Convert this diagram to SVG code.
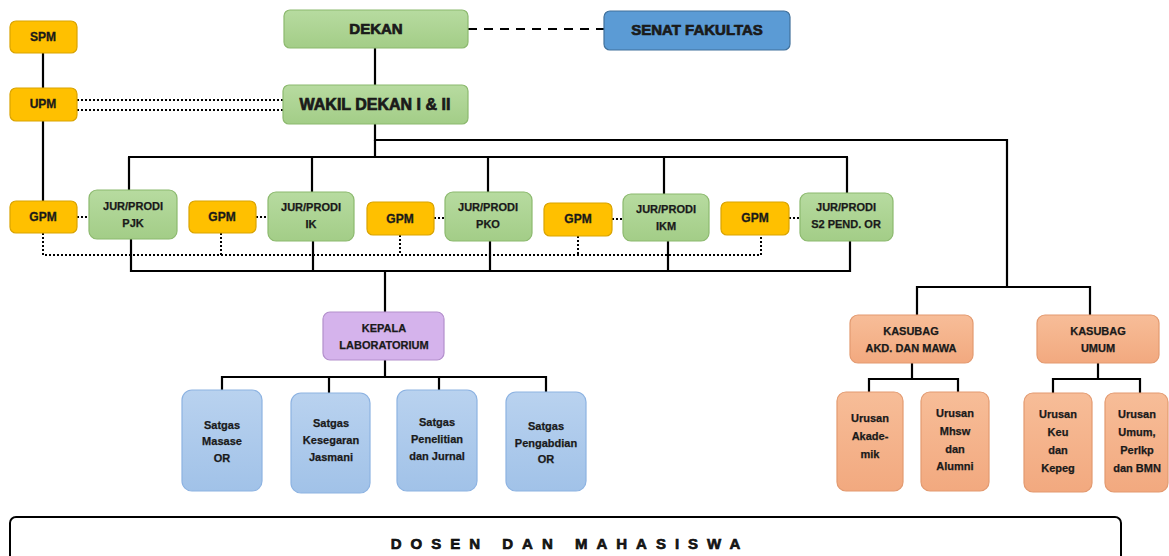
<svg xmlns="http://www.w3.org/2000/svg" width="1169" height="556" viewBox="0 0 1169 556">
<defs>
<linearGradient id="gGreen" x1="0" y1="0" x2="0" y2="1"><stop offset="0" stop-color="#b7dba0"/><stop offset="1" stop-color="#a3cd87"/></linearGradient>
<linearGradient id="gBlue" x1="0" y1="0" x2="0" y2="1"><stop offset="0" stop-color="#b9d2ef"/><stop offset="1" stop-color="#a1c2e8"/></linearGradient>
<linearGradient id="gSalmon" x1="0" y1="0" x2="0" y2="1"><stop offset="0" stop-color="#f7bd98"/><stop offset="1" stop-color="#f2a97f"/></linearGradient>
<style>
text{font-family:"Liberation Sans",Arial,sans-serif;font-weight:bold;fill:#1a1a1a;text-anchor:middle;dominant-baseline:central}
.green{fill:url(#gGreen);stroke:#8cb96e;stroke-width:1.2}
.gold{fill:#ffc000;stroke:#d9a300;stroke-width:1.2}
.senat{fill:#5b9bd5;stroke:#41719c;stroke-width:1.2}
.purple{fill:#d5b3ec;stroke:#b38fcc;stroke-width:1.2}
.sat{fill:url(#gBlue);stroke:#8db3e2;stroke-width:1.2}
.sal{fill:url(#gSalmon);stroke:#e39a70;stroke-width:1.2}
.big{font-size:15px;stroke:#1a1a1a;stroke-width:0.7}
.mid{font-size:12px;stroke:#1a1a1a;stroke-width:0.3}
.sm{font-size:11px;stroke:#1a1a1a;stroke-width:0.25}
.solid{fill:none;stroke:#000;stroke-width:2.2}
.dot{fill:none;stroke:#000;stroke-width:2;stroke-dasharray:2 2}
.dash{fill:none;stroke:#000;stroke-width:2.2;stroke-dasharray:9 7}
</style>
</defs>

<g id="connectors">
<line class="dash" x1="468" y1="29" x2="604" y2="29"/>
<line class="solid" x1="43" y1="53" x2="43" y2="88"/>
<line class="solid" x1="43" y1="121" x2="43" y2="201"/>
<line class="dot" x1="77" y1="100" x2="283" y2="100"/>
<line class="dot" x1="77" y1="110" x2="283" y2="110"/>
<line class="solid" x1="375" y1="48" x2="375" y2="85"/>
<polyline class="solid" points="375,124 375,140 1007,140 1007,287"/>
<line class="solid" x1="375" y1="140" x2="375" y2="157"/>
<line class="solid" x1="128" y1="157" x2="848" y2="157"/>
<line class="solid" x1="129" y1="157" x2="129" y2="190"/>
<line class="solid" x1="312" y1="157" x2="312" y2="192"/>
<line class="solid" x1="488" y1="157" x2="488" y2="192"/>
<line class="solid" x1="664" y1="157" x2="664" y2="194"/>
<line class="solid" x1="847" y1="157" x2="847" y2="193"/>
<line class="dot" x1="77" y1="217" x2="89" y2="217"/>
<line class="dot" x1="256" y1="217" x2="268" y2="217"/>
<line class="dot" x1="434" y1="218" x2="445" y2="218"/>
<line class="dot" x1="612" y1="219" x2="623" y2="219"/>
<line class="dot" x1="789" y1="218" x2="800" y2="218"/>
<polyline class="dot" points="43,233 43,255 761,255 761,235"/>
<line class="dot" x1="221" y1="233" x2="221" y2="255"/>
<line class="dot" x1="400" y1="235" x2="400" y2="255"/>
<line class="dot" x1="578" y1="236" x2="578" y2="255"/>
<polyline class="solid" points="131,239 131,271 850,271 850,241"/>
<line class="solid" x1="313" y1="241" x2="313" y2="271"/>
<line class="solid" x1="490" y1="241" x2="490" y2="271"/>
<line class="solid" x1="668" y1="241" x2="668" y2="271"/>
<line class="solid" x1="385" y1="271" x2="385" y2="312"/>
<line class="solid" x1="385" y1="360" x2="385" y2="377"/>
<polyline class="solid" points="222,390 222,377 546,377 546,392"/>
<line class="solid" x1="329" y1="377" x2="329" y2="393"/>
<line class="solid" x1="439" y1="377" x2="439" y2="390"/>
<polyline class="solid" points="917,315 917,287 1090,287 1090,315"/>
<line class="solid" x1="912" y1="363" x2="912" y2="379"/>
<polyline class="solid" points="869,392 869,379 958,379 958,392"/>
<line class="solid" x1="1098" y1="363" x2="1098" y2="379"/>
<polyline class="solid" points="1053,393 1053,379 1140,379 1140,393"/>
</g>

<g id="dekan"><rect class="green" x="284" y="10" width="184" height="38" rx="6"/><text class="big" x="376" y="28">DEKAN</text></g>
<g id="senat"><rect class="senat" x="604" y="11" width="186" height="39" rx="6"/><text class="big" x="697" y="29">SENAT FAKULTAS</text></g>
<g id="spm"><rect class="gold" x="10" y="21" width="67" height="32" rx="6"/><text class="mid" x="43" y="37">SPM</text></g>
<g id="upm"><rect class="gold" x="10" y="88" width="67" height="33" rx="6"/><text class="mid" x="43" y="104">UPM</text></g>
<g id="wakil"><rect class="green" x="283" y="85" width="185" height="39" rx="6"/><text class="big" x="375" y="104" style="font-size:16px">WAKIL DEKAN I &amp; II</text></g>

<g id="gpm1"><rect class="gold" x="10" y="201" width="67" height="32" rx="6"/><text class="mid" x="43" y="217">GPM</text></g>
<g id="pjk"><rect class="green" x="89" y="190" width="88" height="49" rx="8"/><text class="sm" x="133" y="206">JUR/PRODI</text><text class="sm" x="133" y="223">PJK</text></g>
<g id="gpm2"><rect class="gold" x="189" y="201" width="67" height="32" rx="6"/><text class="mid" x="222" y="217">GPM</text></g>
<g id="ik"><rect class="green" x="268" y="192" width="86" height="49" rx="8"/><text class="sm" x="311" y="207">JUR/PRODI</text><text class="sm" x="311" y="224">IK</text></g>
<g id="gpm3"><rect class="gold" x="367" y="202" width="67" height="33" rx="6"/><text class="mid" x="400" y="219">GPM</text></g>
<g id="pko"><rect class="green" x="445" y="192" width="87" height="49" rx="8"/><text class="sm" x="488" y="207">JUR/PRODI</text><text class="sm" x="488" y="224">PKO</text></g>
<g id="gpm4"><rect class="gold" x="544" y="203" width="68" height="33" rx="6"/><text class="mid" x="578" y="219">GPM</text></g>
<g id="ikm"><rect class="green" x="623" y="194" width="86" height="47" rx="8"/><text class="sm" x="666" y="209">JUR/PRODI</text><text class="sm" x="666" y="226">IKM</text></g>
<g id="gpm5"><rect class="gold" x="721" y="202" width="68" height="33" rx="6"/><text class="mid" x="755" y="218">GPM</text></g>
<g id="s2"><rect class="green" x="800" y="193" width="93" height="48" rx="8"/><text class="sm" x="846" y="207">JUR/PRODI</text><text class="sm" x="846" y="224">S2 PEND. OR</text></g>

<g id="kepala"><rect class="purple" x="323" y="312" width="121" height="48" rx="7"/><text class="sm" x="384" y="328">KEPALA</text><text class="sm" x="384" y="345">LABORATORIUM</text></g>
<g id="satgas1"><rect class="sat" x="182" y="390" width="80" height="101" rx="10"/><text class="sm" x="222" y="425">Satgas</text><text class="sm" x="222" y="441">Masase</text><text class="sm" x="222" y="458">OR</text></g>
<g id="satgas2"><rect class="sat" x="291" y="393" width="79" height="100" rx="10"/><text class="sm" x="331" y="423">Satgas</text><text class="sm" x="331" y="440">Kesegaran</text><text class="sm" x="331" y="457">Jasmani</text></g>
<g id="satgas3"><rect class="sat" x="397" y="390" width="80" height="101" rx="10"/><text class="sm" x="437" y="422">Satgas</text><text class="sm" x="437" y="439">Penelitian</text><text class="sm" x="437" y="456">dan Jurnal</text></g>
<g id="satgas4"><rect class="sat" x="506" y="392" width="80" height="99" rx="10"/><text class="sm" x="546" y="426">Satgas</text><text class="sm" x="546" y="443">Pengabdian</text><text class="sm" x="546" y="459">OR</text></g>

<g id="kasubag-akd"><rect class="sal" x="850" y="315" width="123" height="48" rx="8"/><text class="sm" x="911" y="331">KASUBAG</text><text class="sm" x="911" y="348">AKD. DAN MAWA</text></g>
<g id="kasubag-umum"><rect class="sal" x="1037" y="315" width="122" height="48" rx="8"/><text class="sm" x="1098" y="331">KASUBAG</text><text class="sm" x="1098" y="348">UMUM</text></g>
<g id="urusan-akademik"><rect class="sal" x="837" y="392" width="66" height="99" rx="9"/><text class="sm" x="870" y="418">Urusan</text><text class="sm" x="870" y="436">Akade-</text><text class="sm" x="870" y="454">mik</text></g>
<g id="urusan-mhsw"><rect class="sal" x="921" y="392" width="68" height="99" rx="9"/><text class="sm" x="955" y="413">Urusan</text><text class="sm" x="955" y="431">Mhsw</text><text class="sm" x="955" y="449">dan</text><text class="sm" x="955" y="466">Alumni</text></g>
<g id="urusan-keu"><rect class="sal" x="1024" y="393" width="68" height="99" rx="9"/><text class="sm" x="1058" y="414">Urusan</text><text class="sm" x="1058" y="432">Keu</text><text class="sm" x="1058" y="450">dan</text><text class="sm" x="1058" y="468">Kepeg</text></g>
<g id="urusan-umum"><rect class="sal" x="1105" y="393" width="63" height="99" rx="9"/><text class="sm" x="1137" y="414">Urusan</text><text class="sm" x="1137" y="432">Umum,</text><text class="sm" x="1137" y="450">Perlkp</text><text class="sm" x="1137" y="468">dan BMN</text></g>

<g id="dosen"><rect x="10" y="517" width="1111" height="50" rx="6" fill="#fff" stroke="#000" stroke-width="2"/><text x="570" y="543" style="font-size:15px;letter-spacing:9px;stroke:#000;stroke-width:0.6">DOSEN DAN MAHASISWA</text></g>
</svg>
